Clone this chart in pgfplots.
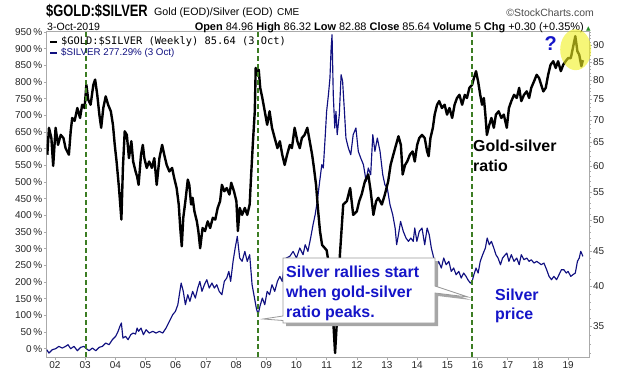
\documentclass[border=0pt]{standalone}
\usepackage{pgfplots}
\pgfplotsset{compat=1.18}
\usepackage{fontspec}
\setmainfont{Liberation Sans}
\newfontfamily\titlefont[FakeStretch=0.785]{Liberation Sans}
\newfontfamily\monofont{DejaVu Sans Mono}
\newfontfamily\dejavu{DejaVu Sans}
\definecolor{navyline}{RGB}{16,16,128}
\definecolor{annblue}{RGB}{20,20,200}
\definecolor{dashgreen}{RGB}{60,125,35}
\definecolor{framegray}{RGB}{170,170,170}
\definecolor{upgreen}{RGB}{40,140,40}
\definecolor{hilite}{RGB}{240,240,30}

\pgfplotstableread{
t v
2001.745 62.3
2001.80 68.2
2001.88 65.9
2001.94 60.0
2002.02 68.2
2002.10 64.4
2002.19 66.6
2002.28 65.9
2002.35 63.7
2002.46 62.3
2002.52 67.4
2002.57 70.5
2002.65 69.8
2002.74 72.9
2002.83 70.5
2002.90 73.7
2002.98 72.9
2003.04 78.8
2003.10 75.0
2003.18 73.7
2003.27 78.8
2003.33 80.2
2003.40 76.2
2003.47 71.3
2003.53 68.2
2003.60 72.9
2003.68 75.8
2003.76 73.7
2003.85 72.1
2003.92 68.9
2003.98 64.4
2004.04 60.9
2004.12 55.7
2004.20 50.1
2004.25 59.6
2004.31 67.4
2004.38 66.6
2004.45 61.6
2004.53 65.2
2004.59 60.9
2004.67 58.9
2004.72 57.9
2004.77 56.3
2004.85 62.3
2004.91 64.4
2004.96 61.6
2005.04 59.6
2005.12 60.9
2005.21 59.6
2005.29 61.6
2005.37 56.3
2005.46 61.6
2005.55 64.4
2005.62 62.3
2005.70 60.2
2005.79 58.9
2005.88 59.6
2005.95 57.6
2006.03 55.7
2006.10 52.7
2006.15 48.7
2006.20 45.8
2006.25 50.4
2006.32 53.3
2006.40 57.3
2006.45 56.3
2006.51 52.7
2006.56 53.9
2006.62 51.5
2006.70 49.8
2006.75 48.2
2006.81 45.5
2006.89 48.7
2006.97 48.2
2007.06 49.8
2007.14 48.7
2007.23 50.4
2007.31 50.1
2007.39 52.1
2007.47 53.3
2007.53 56.3
2007.61 55.1
2007.69 55.7
2007.78 54.5
2007.84 56.7
2007.93 55.1
2008.01 53.3
2008.06 48.2
2008.12 52.1
2008.20 50.9
2008.29 52.1
2008.37 50.9
2008.45 52.7
2008.50 58.3
2008.56 65.2
2008.62 72.1
2008.65 83.4
2008.70 81.5
2008.75 82.9
2008.80 78.0
2008.87 75.4
2008.95 72.1
2009.03 68.9
2009.11 72.1
2009.19 68.2
2009.28 65.9
2009.37 63.7
2009.45 65.2
2009.53 62.3
2009.61 60.2
2009.69 62.3
2009.78 64.4
2009.85 63.7
2009.94 68.2
2010.03 65.2
2010.11 63.7
2010.18 65.9
2010.27 66.6
2010.36 68.2
2010.44 65.2
2010.52 62.3
2010.58 59.6
2010.65 56.3
2010.71 52.1
2010.78 48.2
2010.85 46.0
2011.00 45.2
2011.08 43.0
2011.18 38.2
2011.28 32.0
2011.38 38.2
2011.44 44.5
2011.55 52.7
2011.67 53.3
2011.78 55.7
2011.88 50.9
2012.00 51.5
2012.08 53.3
2012.16 54.5
2012.27 57.0
2012.38 58.3
2012.46 55.1
2012.55 50.9
2012.64 53.3
2012.71 53.9
2012.83 52.7
2012.93 54.5
2013.04 57.0
2013.12 60.2
2013.21 62.3
2013.30 64.4
2013.38 66.3
2013.46 64.4
2013.52 58.3
2013.60 60.2
2013.67 60.9
2013.76 62.3
2013.85 63.0
2013.92 60.9
2014.00 64.4
2014.07 65.9
2014.16 66.6
2014.25 65.9
2014.33 63.0
2014.38 62.0
2014.44 65.9
2014.52 68.2
2014.58 71.3
2014.66 73.7
2014.73 74.6
2014.82 72.9
2014.91 73.7
2014.99 71.3
2015.07 72.9
2015.16 70.5
2015.24 73.7
2015.32 75.4
2015.40 76.2
2015.49 73.7
2015.58 76.2
2015.65 75.4
2015.73 78.0
2015.82 78.8
2015.88 80.6
2015.95 82.5
2016.02 79.7
2016.09 76.2
2016.15 73.7
2016.21 75.4
2016.26 71.3
2016.31 66.6
2016.39 68.9
2016.46 70.5
2016.54 68.2
2016.61 71.3
2016.70 72.1
2016.79 70.5
2016.87 71.3
2016.97 68.2
2017.04 72.9
2017.12 74.6
2017.21 76.2
2017.30 75.4
2017.38 78.0
2017.45 74.6
2017.54 76.2
2017.63 77.1
2017.71 75.4
2017.78 78.0
2017.87 79.7
2017.96 81.5
2018.04 80.6
2018.11 78.8
2018.18 77.1
2018.26 78.0
2018.34 81.5
2018.42 84.3
2018.51 85.3
2018.59 83.4
2018.67 85.3
2018.76 82.5
2018.84 84.3
2018.92 85.3
2019.00 86.2
2019.09 86.2
2019.16 89.2
2019.24 92.8
2019.31 88.2
2019.37 87.2
2019.44 83.9
2019.49 85.6
}\ratiodata

\pgfplotstableread{
t p
2001.725 -3
2001.80 -13
2001.91 -3
2002.02 0
2002.13 7
2002.24 2
2002.35 7
2002.43 12
2002.52 0
2002.63 7
2002.74 -6
2002.85 4
2002.96 7
2003.04 0
2003.13 -6
2003.24 2
2003.35 -6
2003.46 4
2003.57 7
2003.68 17
2003.79 12
2003.90 27
2004.01 37
2004.09 52
2004.15 67
2004.20 77
2004.25 32
2004.34 37
2004.42 27
2004.51 42
2004.59 47
2004.67 44
2004.72 62
2004.77 52
2004.85 62
2004.93 42
2005.02 57
2005.12 47
2005.24 52
2005.35 47
2005.46 52
2005.57 47
2005.68 62
2005.79 82
2005.90 102
2005.99 112
2006.07 132
2006.12 162
2006.18 197
2006.25 172
2006.32 132
2006.40 162
2006.47 142
2006.56 172
2006.65 152
2006.73 182
2006.80 202
2006.87 172
2006.95 192
2007.03 207
2007.11 182
2007.20 197
2007.28 182
2007.36 192
2007.44 172
2007.53 162
2007.61 202
2007.69 212
2007.76 232
2007.82 202
2007.90 262
2007.97 302
2008.04 337
2008.12 272
2008.20 262
2008.29 292
2008.37 262
2008.45 282
2008.53 192
2008.59 162
2008.67 122
2008.73 102
2008.79 127
2008.87 152
2008.95 132
2009.03 172
2009.11 162
2009.19 192
2009.28 172
2009.37 202
2009.45 217
2009.53 202
2009.60 255
2009.66 272
2009.78 277
2009.89 292
2010.00 272
2010.11 302
2010.22 282
2010.29 312
2010.38 292
2010.47 332
2010.55 372
2010.62 402
2010.69 442
2010.77 502
2010.84 552
2010.89 542
2010.95 632
2011.00 712
2011.06 762
2011.11 812
2011.15 902
2011.18 942
2011.22 762
2011.27 662
2011.31 712
2011.35 642
2011.42 702
2011.48 822
2011.53 802
2011.59 712
2011.64 632
2011.72 602
2011.80 582
2011.88 642
2011.97 662
2012.05 592
2012.13 572
2012.22 552
2012.31 502
2012.38 542
2012.46 522
2012.53 642
2012.60 592
2012.68 632
2012.77 592
2012.86 522
2012.93 492
2013.01 482
2013.10 432
2013.19 402
2013.27 362
2013.32 312
2013.38 342
2013.45 382
2013.54 352
2013.63 332
2013.71 322
2013.79 332
2013.87 322
2013.92 362
2013.99 322
2014.07 352
2014.16 362
2014.25 312
2014.33 362
2014.40 342
2014.47 302
2014.55 272
2014.62 242
2014.71 262
2014.80 242
2014.88 272
2014.96 252
2015.05 262
2015.13 232
2015.21 242
2015.29 222
2015.38 232
2015.46 212
2015.54 227
2015.62 217
2015.68 207
2015.76 197
2015.82 202
2015.88 222
2015.95 242
2016.02 227
2016.09 262
2016.17 282
2016.26 302
2016.32 332
2016.39 312
2016.46 322
2016.54 302
2016.61 282
2016.68 272
2016.76 252
2016.83 272
2016.92 282
2016.97 287
2017.04 262
2017.12 282
2017.21 262
2017.30 272
2017.38 252
2017.45 282
2017.54 267
2017.63 272
2017.71 262
2017.78 267
2017.87 257
2017.96 262
2018.04 257
2018.11 252
2018.20 257
2018.29 237
2018.37 217
2018.45 207
2018.53 217
2018.62 207
2018.70 222
2018.78 237
2018.86 237
2018.94 227
2019.00 232
2019.09 217
2019.16 222
2019.24 227
2019.31 262
2019.37 272
2019.42 292
2019.46 284
2019.49 277
}\silverdata

\begin{document}
\begin{tikzpicture}[x=1bp,y=1bp]
\path[use as bounding box] (0,0) rectangle (620,376);

% ---- left axis: silver percent ----
\begin{axis}[
  at={(46.7bp,19bp)}, anchor=south west,
  scale only axis, width=542.3bp, height=325.5bp,
  xmin=2001.725, xmax=2019.694,
  ymin=-24.9, ymax=951.6,
  axis line style={draw=framegray, line width=0.8bp},
  xtick={2002,2003,...,2019},
  xticklabels={02,03,04,05,06,07,08,09,10,11,12,13,14,15,16,17,18,19},
  ytick={0,50,...,950},
  yticklabels={0\,\%,50\,\%,100\,\%,150\,\%,200\,\%,250\,\%,300\,\%,350\,\%,400\,\%,450\,\%,500\,\%,550\,\%,600\,\%,650\,\%,700\,\%,750\,\%,800\,\%,850\,\%,900\,\%,950\,\%},
  tick pos=left, tick align=outside,
  major tick length=3bp,
  tick style={draw=framegray, line width=0.6bp},
  ticklabel style={font=\fontsize{10}{12}\selectfont, text=black!85},
  xticklabel style={inner sep=1.5bp},
  yticklabel style={inner sep=1.2bp},
]
\addplot[navyline, line width=1.15bp, line join=round] table[x=t, y=p] {\silverdata};
\end{axis}

% ---- right axis: gold/silver ratio (log) ----
\begin{axis}[
  at={(46.7bp,19bp)}, anchor=south west,
  scale only axis, width=542.3bp, height=325.5bp,
  xmin=2001.725, xmax=2019.694,
  ymode=log, ymin=31.57, ymax=94.27,
  hide x axis,
  axis y line*=right,
  axis line style={draw=framegray, line width=0.8bp},
  ytick={35,40,45,50,55,60,65,70,75,80,85,90},
  yticklabels={35,40,45,50,55,60,65,70,75,80,85,90},
  minor ytick={32,33,...,94},
  ytick pos=right, tick align=outside,
  major tick length=3bp, minor tick length=1.8bp,
  tick style={draw=framegray, line width=0.6bp},
  ticklabel style={font=\fontsize{10}{12}\selectfont, text=black!85},
  yticklabel style={inner sep=0.8bp},
]
\addplot[black, line width=2.4bp, line join=round] table[x=t, y=v] {\ratiodata};
\draw[dashgreen, line width=1.5bp, dash pattern=on 5bp off 3bp] (axis cs:2003.03,31.57) -- (axis cs:2003.03,94.27);
\draw[dashgreen, line width=1.5bp, dash pattern=on 5bp off 3bp] (axis cs:2008.73,31.57) -- (axis cs:2008.73,94.27);
\draw[dashgreen, line width=1.5bp, dash pattern=on 5bp off 3bp] (axis cs:2015.82,31.57) -- (axis cs:2015.82,94.27);
\end{axis}

% ---- header ----
\node[anchor=base west, inner sep=0] at (46,360) {\titlefont\bfseries\fontsize{16.5}{18}\selectfont \$GOLD:\$SILVER};
\node[anchor=base west, inner sep=0] at (154,361) {\fontsize{10.7}{12}\selectfont Gold (EOD)/Silver (EOD)};
\node[anchor=base west, inner sep=0] at (277,361) {\fontsize{10}{12}\selectfont CME};
\node[anchor=base east, inner sep=0] at (594,360) {\fontsize{10.5}{12}\selectfont\color{black!70}\textcopyright StockCharts.com};
\node[anchor=base west, inner sep=0] at (47,345.5) {\fontsize{10.6}{12}\selectfont 3-Oct-2019};
\node[anchor=base east, inner sep=0] at (584,345.5) {\fontsize{11}{12}\selectfont \textbf{Open} 84.96 \textbf{High} 86.32 \textbf{Low} 82.88 \textbf{Close} 85.64 \textbf{Volume} 5 \textbf{Chg} +0.30 (+0.35\%)};
\node[anchor=base west, inner sep=0] at (586,346) {\dejavu\fontsize{6}{7}\selectfont\color{upgreen}▲};

% ---- legend ----
\draw[black, line width=2.2bp] (50,334) -- (57,334);
\node[anchor=west, inner sep=0] at (61,334) {\monofont\fontsize{10.4}{12}\selectfont \$GOLD:\$SILVER (Weekly) 85.64 (3 Oct)};
\draw[navyline, line width=2.2bp] (50,323) -- (57,323);
\node[anchor=west, inner sep=0] at (61,323) {\fontsize{9.8}{11}\selectfont\color{navyline}\$SILVER 277.29\% (3 Oct)};

% ---- callout ----
\fill[black!35] (286,115) -- (438,115) -- (438,87) -- (471,76) -- (438,80) -- (438,50) -- (286,50) -- cycle;
\filldraw[fill=white, draw=black!40, line width=0.8bp]
  (283,118) -- (435,118) -- (435,90) -- (468,79) -- (435,83) -- (435,53) -- (283,53)
  -- (283,55.5) -- (263,57) -- (283,60) -- cycle;
\node[anchor=base west, inner sep=0, text=annblue] at (286,98.5) {\bfseries\fontsize{16}{18}\selectfont Silver rallies start};
\node[anchor=base west, inner sep=0, text=annblue] at (286,78.5) {\bfseries\fontsize{16}{18}\selectfont when gold-silver};
\node[anchor=base west, inner sep=0, text=annblue] at (286,58.5) {\bfseries\fontsize{16}{18}\selectfont ratio peaks.};

% ---- other annotations ----
\node[anchor=base west, inner sep=0] at (473,224.5) {\bfseries\fontsize{16}{18}\selectfont Gold-silver};
\node[anchor=base west, inner sep=0] at (473,204.5) {\bfseries\fontsize{16}{18}\selectfont ratio};
\node[anchor=base west, inner sep=0, text=annblue] at (495,75.5) {\bfseries\fontsize{16}{18}\selectfont Silver};
\node[anchor=base west, inner sep=0, text=annblue] at (495,57) {\bfseries\fontsize{16}{18}\selectfont price};
\node[anchor=base, inner sep=0, text=annblue] at (550.7,325.5) {\bfseries\fontsize{20}{22}\selectfont ?};
\fill[hilite, opacity=0.6] (575.7,326.3) ellipse [x radius=15.5, y radius=20.5];
\end{tikzpicture}
\end{document}
